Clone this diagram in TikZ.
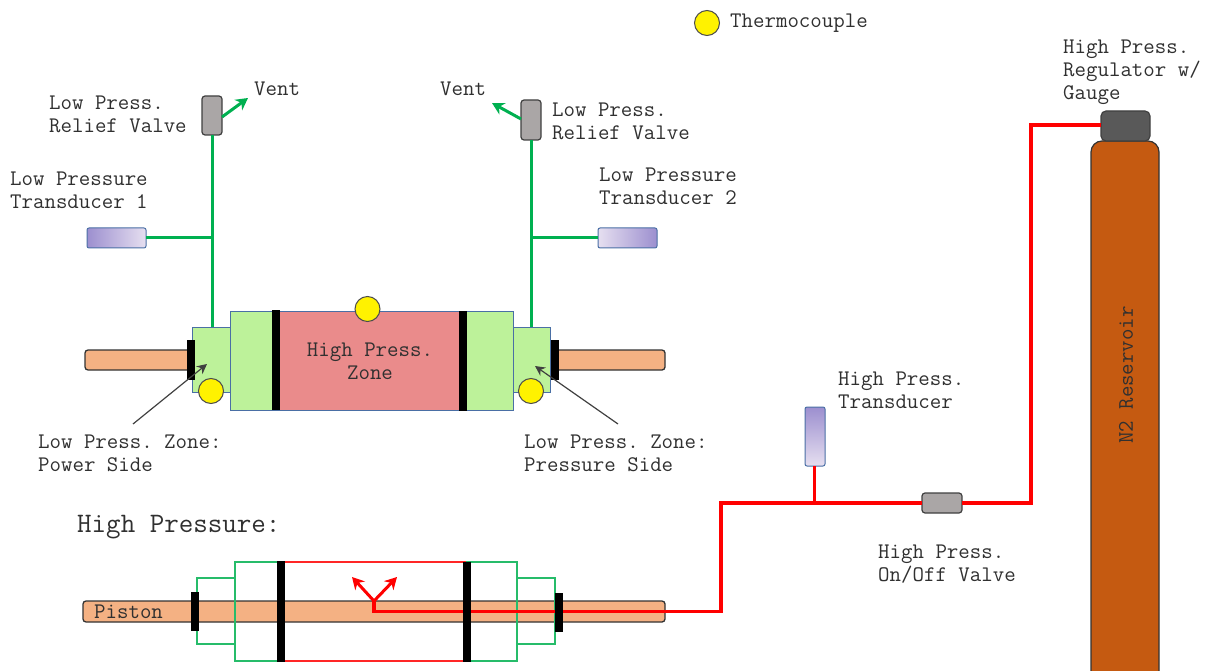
\documentclass[tikz,border=0pt]{standalone}
\usepackage{fontspec}
\usetikzlibrary{arrows.meta}
\definecolor{rodc}{HTML}{F4B183}
\definecolor{zonegreen}{HTML}{BDF29A}
\definecolor{zonered}{HTML}{EA8B8B}
\definecolor{edgeblue}{HTML}{4A6FA5}
\definecolor{gline}{HTML}{00B050}
\definecolor{rline}{HTML}{FF0000}
\definecolor{tank}{HTML}{C55A11}
\definecolor{greyvalve}{HTML}{AAA6A6}
\definecolor{txt}{HTML}{303030}
\definecolor{tlight}{HTML}{E6DFF0}
\definecolor{tdark}{HTML}{9C8FCF}
\newcommand{\bx}[6]{\node[#1,minimum width={(#5-#3)*1pt},minimum height={(#6-#4)*1pt}] (#2) at ({(#3+#5)/2},{(#4+#6)/2}) {};}
\tikzset{
  x=1pt,y=-1pt,
  shapebox/.style={inner sep=0pt,outer sep=0pt,rectangle},
  rod/.style={shapebox,draw=black!80,line width=1.3pt,fill=rodc,rounded corners=3pt},
  zoneg/.style={shapebox,draw=edgeblue,line width=1pt,fill=zonegreen},
  zoner/.style={shapebox,draw=edgeblue,line width=1pt,fill=zonered},
  seal/.style={shapebox,fill=black},
  tc/.style={circle,inner sep=0pt,outer sep=0pt,minimum size=25pt,draw=black!70,line width=1pt,fill=yellow},
  valve/.style={shapebox,draw=black!75,line width=1.2pt,fill=greyvalve,rounded corners=3pt},
  hxd/.style={shapebox,draw=edgeblue,line width=1pt,left color=tdark,right color=tlight,rounded corners=2pt},
  hxdr/.style={shapebox,draw=edgeblue,line width=1pt,left color=tlight,right color=tdark,rounded corners=2pt},
  vxd/.style={shapebox,draw=edgeblue,line width=1pt,top color=tdark,bottom color=tlight,rounded corners=2pt},
  outg/.style={shapebox,draw=gline!85!white,line width=1.2pt},
  outr/.style={shapebox,draw=rline!85!white,line width=1.2pt},
  lab/.style={anchor=west,align=left,inner sep=0pt,yshift=-1pt,text=txt,font=\ttfamily\frenchspacing\fontsize{22.25}{23}\selectfont},
  gpipe/.style={draw=gline,line width=3pt},
  rpipe/.style={draw=rline,line width=3pt},
  gvent/.style={gpipe,-{Stealth[length=12pt,width=13pt]}},
  rvent/.style={rpipe,-{Stealth[length=12pt,width=13pt]}},
  pointer/.style={draw=black!75,line width=1.2pt,-{Stealth[length=10pt,width=10pt]}},
}
\begin{document}
\begin{tikzpicture}
\useasboundingbox (0,0) rectangle (1208,671);
% upper cylinder
\bx{rod}{rodL}{85}{350}{190}{370}
\bx{rod}{rodR}{555}{350}{665}{370}
\bx{zoneg}{lowL}{192.5}{327}{230}{392}
\bx{zoneg}{lowR}{513}{327}{550}{392}
\bx{zoneg}{midL}{230}{311}{275}{410}
\bx{zoneg}{midR}{463}{311}{513}{410}
\bx{zoner}{hpz}{275}{311}{463}{410}
\bx{seal}{s1}{187}{340}{195}{380}
\bx{seal}{s2}{272}{310}{280}{410}
\bx{seal}{s3}{459}{311}{467}{411}
\bx{seal}{s4}{551}{340}{559}{380}
\node[tc] (tcTop) at (367.5,309) {};
\node[tc] (tcL) at (211,391) {};
\node[tc] (tcR) at (531,391) {};
\node[tc] (tcKey) at (707,23) {};
% low pressure plumbing
\bx{valve}{rvL}{202}{96}{222}{135}
\bx{valve}{rvR}{521}{100}{541}{140}
\bx{hxd}{ltL}{87}{228}{146}{248}
\bx{hxdr}{ltR}{598}{228}{657}{248}
\coordinate (jL) at (212,238);
\coordinate (jR) at (531,238);
\coordinate (ventL) at (248,98);
\coordinate (ventR) at (492,103);
\coordinate (ptrA) at (133,424);
\coordinate (ptrAe) at (207,364);
\coordinate (ptrB) at (618,424);
\coordinate (ptrBe) at (535,366);
\draw[gpipe] (lowL.north -| jL) -- (jL) -- (rvL.south -| jL);
\draw[gpipe] (jL) -- (ltL.east);
\draw[gpipe] (lowR.north -| jR) -- (jR) -- (rvR.south -| jR);
\draw[gpipe] (jR) -- (ltR.west);
\draw[gvent] (222,117) -- (ventL);
\draw[gvent] (521,119) -- (ventR);
\draw[pointer] (ptrA) -- (ptrAe);
\draw[pointer] (ptrB) -- (ptrBe);
% lower cylinder
\bx{rod}{rodH}{83}{601}{665}{622}
\bx{outg}{hLow1}{197}{578}{235}{644}
\bx{outg}{hMid1}{235}{562}{282}{661}
\bx{outr}{hZone}{282}{562}{467}{661}
\bx{outg}{hMid2}{467}{562}{517}{661}
\bx{outg}{hLow2}{517}{578}{555}{644}
% high pressure plumbing
\bx{vxd}{hpT}{805}{407}{825}{466}
\bx{valve}{hpV}{922}{493}{962}{513}
\bx{shapebox,draw=black!80,line width=1.2pt,fill=tank,rounded corners=11pt}{tankN}{1091}{141}{1159}{690}
\bx{valve,fill=black!65,rounded corners=5pt}{reg}{1101}{111}{1150}{141}
\coordinate (j0) at (374,611.5);
\coordinate (j1) at (374,601);
\coordinate (c1) at (721,611.5);
\coordinate (c2) at (721,503);
\coordinate (jT) at (814,503);
\coordinate (c3) at (1031,503);
\coordinate (c4) at (1031,125);
\coordinate (tipA) at (352,577);
\coordinate (tipB) at (397,577);
\draw[rpipe,line width=3.5pt] (j1) -- (j0) -- (c1) -- (c2) -- (jT) -- (hpV.west);
\draw[rpipe,line width=3.5pt] (hpV.east) -- (c3) -- (c4) -- (reg.west |- c4);
\draw[rpipe] (jT) -- (hpT.south -| jT);
\draw[rvent] (j1) -- (tipA);
\draw[rvent] (j1) -- (tipB);
\bx{seal}{h1}{191}{592}{199}{631}
\bx{seal}{h2}{277}{561}{285}{662}
\bx{seal}{h3}{463}{562}{471}{662}
\bx{seal}{h4}{555}{593}{563}{632}
% labels
\node[lab] (tThermo) at (730,22) {Thermocouple};
\node[lab] (tRelL) at (49,113.5) {Low Press.\\ Relief Valve};
\node[lab] (tVentL) at (254,88) {Vent};
\node[lab] (tVentR) at (440,88) {Vent};
\node[lab] (tRelR) at (552,120) {Low Press.\\Relief Valve};
\node[lab] (tLt1) at (10,189) {Low Pressure\\Transducer 1};
\node[lab] (tLt2) at (599,185.5) {Low Pressure\\Transducer 2};
\node[lab,anchor=center,align=center] (tHz) at (370,360) {High Press.\\Zone};
\node[lab] (tPow) at (38,452) {Low Press. Zone:\\Power Side};
\node[lab] (tPrs) at (524,452) {Low Press. Zone:\\Pressure Side};
\node[lab,font=\ttfamily\frenchspacing\fontsize{28.2}{30}\selectfont] (tHp) at (77,526.5) {High Pressure:};
\node[lab] (tPist) at (94,611) {Piston};
\node[lab] (tXd) at (838,389) {High Press.\\Transducer};
\node[lab] (tOn) at (878,563) {High Press.\\On/Off Valve};
\node[lab] (tReg) at (1063,71.5) {High Press.\\Regulator w/\\Gauge};
\node[lab,anchor=center,rotate=90,yshift=0pt] (tN2) at (1126,374) {N2 Reservoir};
\end{tikzpicture}
\end{document}
